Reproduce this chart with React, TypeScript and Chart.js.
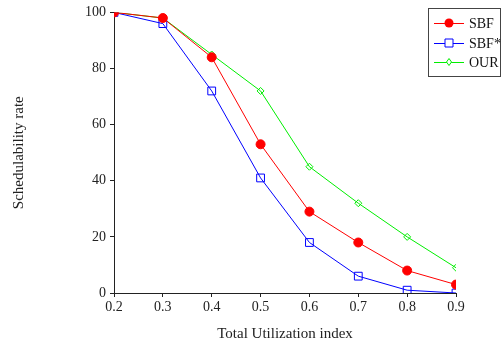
import React, { useEffect, useRef } from "react";
import { Chart, registerables } from "chart.js";

Chart.register(...registerables);

const utilization = [0.2, 0.3, 0.4, 0.5, 0.6, 0.7, 0.8, 0.9];
const sbf = [100, 98, 84, 53, 29, 18, 8, 3];
const sbfStar = [100, 96, 72, 41, 18, 6, 1, 0];
const our = [100, 98, 85, 72, 45, 32, 20, 9];
const seriesNames = ["SBF", "SBF*", "OUR"];
const yTicks = [0, 20, 40, 60, 80, 100];

const FONT = "'Liberation Serif', 'DejaVu Serif', serif";

const legendPlugin = {
  id: "boxLegend",
  afterDraw(chart: any) {
    const ctx = chart.ctx;
    ctx.save();
    const x0 = 428, y0 = 8, w = 72, h = 68;
    ctx.fillStyle = "#fff";
    ctx.fillRect(x0, y0, w, h);
    ctx.strokeStyle = "#444";
    ctx.lineWidth = 1;
    ctx.strokeRect(x0 + 0.5, y0 + 0.5, w, h);
    const rows = [23, 43, 62];
    chart.data.datasets.forEach((ds: any, i: number) => {
      const y = rows[i];
      ctx.strokeStyle = ds.borderColor;
      ctx.lineWidth = 1;
      ctx.beginPath();
      ctx.moveTo(434, y + 0.5);
      ctx.lineTo(464, y + 0.5);
      ctx.stroke();
      const cx = 449;
      ctx.beginPath();
      if (ds.pointStyle === "circle") {
        ctx.fillStyle = ds.pointBackgroundColor;
        ctx.arc(cx, y, 4.5, 0, Math.PI * 2);
        ctx.fill();
      } else if (ds.pointStyle === "rect") {
        ctx.fillStyle = "#fff";
        ctx.rect(cx - 4, y - 4, 8, 8);
        ctx.fill();
        ctx.stroke();
      } else {
        ctx.fillStyle = "#fff";
        ctx.moveTo(cx, y - 3.5);
        ctx.lineTo(cx + 2.5, y);
        ctx.lineTo(cx, y + 3.5);
        ctx.lineTo(cx - 2.5, y);
        ctx.closePath();
        ctx.fill();
        ctx.stroke();
      }
      ctx.fillStyle = "#111";
      ctx.font = "14px " + FONT;
      ctx.textBaseline = "middle";
      ctx.textAlign = "left";
      ctx.fillText(ds.label, 469, y + 1);
    });
    ctx.restore();
  },
};

export default function App() {
  const ref = useRef<HTMLCanvasElement>(null);
  useEffect(() => {
    const mk = (arr: number[]) => utilization.map((x, i) => ({ x, y: arr[i] }));
    const chart = new Chart(ref.current!, {
      type: "line",
      data: {
        datasets: [
          {
            label: seriesNames[0],
            data: mk(sbf),
            borderColor: "#ff0000",
            backgroundColor: "#ff0000",
            pointStyle: "circle",
            pointBackgroundColor: "#ff0000",
            pointBorderColor: "#ff0000",
            pointRadius: 4.5,
            borderWidth: 1,
            pointBorderWidth: 1,
          },
          {
            label: seriesNames[1],
            data: mk(sbfStar),
            borderColor: "#0000ff",
            backgroundColor: "#ffffff",
            pointStyle: "rect",
            pointBackgroundColor: "rgba(255,255,255,0)",
            pointBorderColor: "#0000ff",
            pointRadius: 5.5,
            borderWidth: 1,
            pointBorderWidth: 1,
          },
          {
            label: seriesNames[2],
            data: mk(our),
            borderColor: "#00ee00",
            backgroundColor: "#ffffff",
            pointStyle: "rectRot",
            pointBackgroundColor: "rgba(255,255,255,0)",
            pointBorderColor: "#00ee00",
            pointRadius: 3.5,
            borderWidth: 1,
            pointBorderWidth: 1,
          },
        ] as any,
      },
      options: {
        animation: false,
        responsive: false,
        maintainAspectRatio: false,
        layout: { padding: { top: 9, right: 48, left: 10, bottom: 0 } },
        plugins: { legend: { display: false }, tooltip: { enabled: false } },
        scales: {
          x: {
            type: "linear",
            min: 0.2,
            max: 0.9,
            afterFit: (s: any) => { s.height = 50; },
            afterBuildTicks: (s: any) => { s.ticks = utilization.map((v) => ({ value: v })); },
            ticks: {
              color: "#222",
              font: { family: FONT, size: 14 },
              padding: 2,
              maxRotation: 0,
              callback: (v: any) => Number(v).toFixed(1),
            },
            grid: { drawOnChartArea: false, tickLength: 4, color: "#222" },
            border: { color: "#222", width: 1 },
            title: {
              display: true,
              text: "Total Utilization index",
              color: "#222",
              font: { family: FONT, size: 15 },
              padding: { top: 3, bottom: 0 },
            },
          },
          y: {
            min: 0,
            max: 100,
            afterFit: (s: any) => { s.width = 104; },
            afterBuildTicks: (s: any) => { s.ticks = yTicks.map((v) => ({ value: v })); },
            ticks: {
              color: "#222",
              font: { family: FONT, size: 14 },
              padding: 4,
            },
            grid: { drawOnChartArea: false, tickLength: 4, color: "#222" },
            border: { color: "#222", width: 1 },
            title: {
              display: true,
              text: "Schedulability rate",
              color: "#222",
              font: { family: FONT, size: 15 },
              padding: { top: 0, bottom: 0 },
            },
          },
        },
      } as any,
      plugins: [legendPlugin],
    });
    return () => chart.destroy();
  }, []);
  return (
    <div style={{ position: "absolute", left: 0, top: 0, width: 504, height: 343, background: "#fff" }}>
      <canvas ref={ref} width={504} height={343} style={{ width: 504, height: 343 }} />
    </div>
  );
}
